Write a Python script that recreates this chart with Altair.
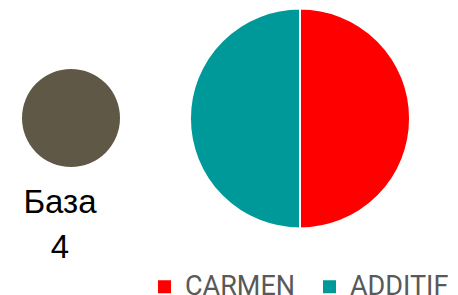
import altair as alt
import pandas as pd

# Data
categories = ["CARMEN", "ADDITIF"]
shares = [50, 50]
colors = ["#FF0000", "#009999"]
base_label = ["База"]
base_value = [4]

pie_df = pd.DataFrame({"cat": categories, "val": shares, "order": [0, 1]})
base_df = pd.DataFrame({"label": base_label, "n": base_value})

pie = alt.Chart(pie_df).mark_arc(radius=110, stroke="white", strokeWidth=2).encode(
    theta=alt.Theta("val:Q", stack=True),
    order=alt.Order("order:Q"),
    color=alt.Color(
        "cat:N",
        scale=alt.Scale(domain=categories, range=colors),
        legend=alt.Legend(
            title=None,
            orient="none",
            legendX=143,
            legendY=265,
            direction="horizontal",
            symbolType="square",
            symbolSize=169,
            symbolStrokeWidth=0,
            labelFontSize=27,
            labelFont="Roboto",
            labelColor="#595959",
            labelOffset=7,
            labelLimit=300,
            columnPadding=20,
        ),
    ),
    x=alt.value(292),
    y=alt.value(110.5),
)

base_circle = alt.Chart(base_df).mark_arc(radius=49, color="#5F5846").encode(
    theta=alt.Theta("n:Q", scale=alt.Scale(domain=[0, base_value[0]])),
    x=alt.value(63),
    y=alt.value(110),
)

base_text = alt.Chart(base_df).transform_calculate(
    txt="datum.label + '\\n' + datum.n"
).mark_text(
    font="Liberation Sans", fontSize=33, color="black", lineBreak="\n", lineHeight=45,
    baseline="middle", align="center"
).encode(
    text="txt:N",
    x=alt.value(52),
    y=alt.value(195),
)

chart = alt.layer(base_circle, pie, base_text).resolve_scale(
    theta="independent"
).properties(
    width=442, height=287, autosize="none", padding=0
).configure_view(stroke=None)

chart.save("out.html", embed_options={"renderer": "svg", "actions": False})
